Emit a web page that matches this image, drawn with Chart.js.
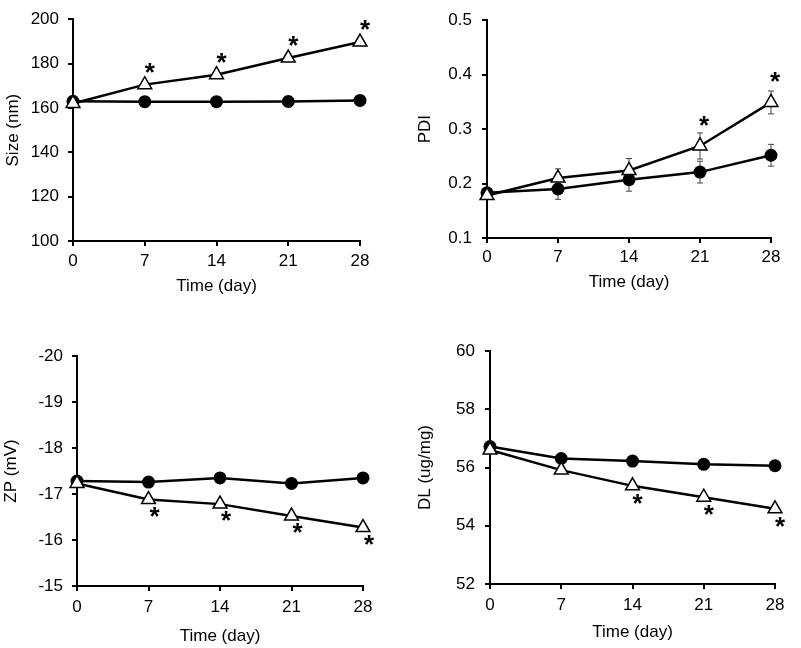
<!DOCTYPE html>
<html lang="en">
<head>
<meta charset="UTF-8">
<title>Stability over 28 days</title>
<script src="https://cdn.jsdelivr.net/npm/chart.js@4"></script>
<style>
  html, body { margin: 0; padding: 0; background: #fff; }
  body { width: 801px; height: 648px; position: relative; overflow: hidden; }
  .panel { position: absolute; }
  .panel canvas { display: block; }
</style>
</head>
<body>
<div class="panel" style="left:0;top:0"><canvas id="size" width="400" height="300"></canvas></div>
<div class="panel" style="left:400px;top:0"><canvas id="pdi" width="401" height="300"></canvas></div>
<div class="panel" style="left:0;top:300px"><canvas id="zp" width="400" height="348"></canvas></div>
<div class="panel" style="left:400px;top:300px"><canvas id="dl" width="401" height="348"></canvas></div>

<script>
const days = [0, 7, 14, 21, 28];

const sizeTicks = [100, 120, 140, 160, 180, 200];
const sizeCircle = [163, 162.8, 162.8, 162.9, 163.4];
const sizeTriangle = [162, 170.5, 175, 182.5, 189.7];
const sizeStars = [0, 1, 1, 1, 1];

const pdiTicks = [0.1, 0.2, 0.3, 0.4, 0.5];
const pdiCircle = [0.183, 0.19, 0.207, 0.221, 0.252];
const pdiCircleErr = [0.005, 0.019, 0.021, 0.02, 0.02];
const pdiTriangle = [0.178, 0.21, 0.224, 0.269, 0.349];
const pdiTriangleErr = [0.005, 0.017, 0.022, 0.024, 0.021];
const pdiStars = [0, 0, 0, 1, 1];

const zpTicks = [-20, -19, -18, -17, -16, -15];
const zpCircle = [-17.28, -17.26, -17.35, -17.23, -17.35];
const zpTriangle = [-17.23, -16.88, -16.78, -16.52, -16.27];
const zpStars = [0, 1, 1, 1, 1];

const dlTicks = [52, 54, 56, 58, 60];
const dlCircle = [56.72, 56.31, 56.22, 56.11, 56.06];
const dlTriangle = [56.6, 55.91, 55.37, 54.98, 54.58];
const dlStars = [0, 0, 1, 1, 1];

Chart.defaults.font.family = "'Liberation Sans', Arial, sans-serif";
Chart.defaults.font.size = 17;
Chart.defaults.color = '#000';

// error bars under the markers, asterisks on top
function marks(p) {
  return {
    id: 'marks',
    beforeDatasetsDraw(chart) {
      if (!p.err) return;
      const ctx = chart.ctx, ys = chart.scales.y;
      ctx.save();
      ctx.strokeStyle = '#444';
      ctx.lineWidth = 1;
      p.err.forEach((errs, di) => {
        const pts = chart.getDatasetMeta(di).data;
        const vals = chart.data.datasets[di].data;
        pts.forEach((pt, i) => {
          const t = ys.getPixelForValue(vals[i].y + errs[i]);
          const b = ys.getPixelForValue(vals[i].y - errs[i]);
          ctx.beginPath();
          ctx.moveTo(pt.x, t); ctx.lineTo(pt.x, b);
          ctx.moveTo(pt.x - 3, t); ctx.lineTo(pt.x + 3, t);
          ctx.moveTo(pt.x - 3, b); ctx.lineTo(pt.x + 3, b);
          ctx.stroke();
        });
      });
      ctx.restore();
    },
    afterDatasetsDraw(chart) {
      const ctx = chart.ctx;
      const pts = chart.getDatasetMeta(0).data;
      ctx.save();
      ctx.font = "bold 26px 'Liberation Sans', Arial, sans-serif";
      ctx.fillStyle = '#000';
      ctx.textAlign = 'center';
      ctx.textBaseline = 'alphabetic';
      const m = ctx.measureText('*');
      const shift = (m.actualBoundingBoxDescent - m.actualBoundingBoxAscent) / 2;
      p.stars.forEach((s, i) => {
        if (!s) return;
        ctx.fillText('*', pts[i].x + p.dx, pts[i].y + p.dy - shift);
      });
      ctx.restore();
    }
  };
}

function makePanel(id, p) {
  const axisGrid = { drawOnChartArea: false, tickLength: 5, color: '#000', lineWidth: 2 };
  const axisBorder = { color: '#000', width: 2 };
  new Chart(document.getElementById(id), {
    type: 'line',
    data: {
      datasets: [
        {
          data: days.map((d, i) => ({ x: d, y: p.tri[i] })),
          borderColor: '#000', borderWidth: 2.5, tension: 0, clip: false,
          pointStyle: 'triangle', pointRadius: 8,
          pointBackgroundColor: '#fff', pointBorderColor: '#000', pointBorderWidth: 1.5
        },
        {
          data: days.map((d, i) => ({ x: d, y: p.cir[i] })),
          borderColor: '#000', borderWidth: 2.5, tension: 0, clip: false,
          pointStyle: 'circle', pointRadius: 6.5,
          pointBackgroundColor: '#000', pointBorderColor: '#000', pointBorderWidth: 0
        }
      ]
    },
    options: {
      responsive: false,
      animation: false,
      layout: { padding: p.pad },
      plugins: { legend: { display: false }, tooltip: { enabled: false } },
      scales: {
        x: {
          type: 'linear', min: days[0], max: days[days.length - 1],
          afterBuildTicks: s => { s.ticks = days.map(v => ({ value: v })); },
          afterFit: s => { s.height = p.xh; },
          ticks: { padding: p.xp },
          grid: axisGrid, border: axisBorder,
          title: { display: true, text: 'Time (day)', font: { size: 17 }, padding: { top: 0, bottom: p.xtp } }
        },
        y: {
          min: p.ticks[0], max: p.ticks[p.ticks.length - 1], reverse: !!p.reverse,
          afterBuildTicks: s => { s.ticks = p.ticks.map(v => ({ value: v })); },
          afterFit: s => { s.width = p.yw; },
          ticks: { padding: p.yp, callback: p.fmt || (v => String(v)) },
          grid: axisGrid, border: axisBorder,
          title: { display: true, text: p.title, font: { size: 17 }, padding: { top: p.ytp, bottom: 0 } }
        }
      }
    },
    plugins: [marks(p)]
  });
}

makePanel('size', {
  tri: sizeTriangle, cir: sizeCircle, ticks: sizeTicks, stars: sizeStars,
  title: 'Size (nm)', pad: { left: 0, top: 12, right: 40, bottom: 0 },
  yw: 73, xh: 59, xp: 5, xtp: 3, yp: 9, ytp: 3, dx: 5, dy: -17
});
makePanel('pdi', {
  tri: pdiTriangle, cir: pdiCircle, ticks: pdiTicks, stars: pdiStars,
  err: [pdiTriangleErr, pdiCircleErr], fmt: v => v.toFixed(1),
  title: 'PDI', pad: { left: 0, top: 9, right: 30, bottom: 0 },
  yw: 87, xh: 62, xp: 4, xtp: 7, yp: 10, ytp: 15, dx: 4, dy: -25
});
makePanel('zp', {
  tri: zpTriangle, cir: zpCircle, ticks: zpTicks, stars: zpStars, reverse: true,
  title: 'ZP (mV)', pad: { left: 0, top: 56, right: 37, bottom: 0 },
  yw: 77, xh: 62, xp: 6, xtp: 1, yp: 9, ytp: 1, dx: 6, dy: 12
});
makePanel('dl', {
  tri: dlTriangle, cir: dlCircle, ticks: dlTicks, stars: dlStars,
  title: 'DL (ug/mg)', pad: { left: 0, top: 51, right: 26, bottom: 0 },
  yw: 90, xh: 64, xp: 6, xtp: 5, yp: 10, ytp: 15, dx: 5, dy: 13
});
</script>
</body>
</html>
